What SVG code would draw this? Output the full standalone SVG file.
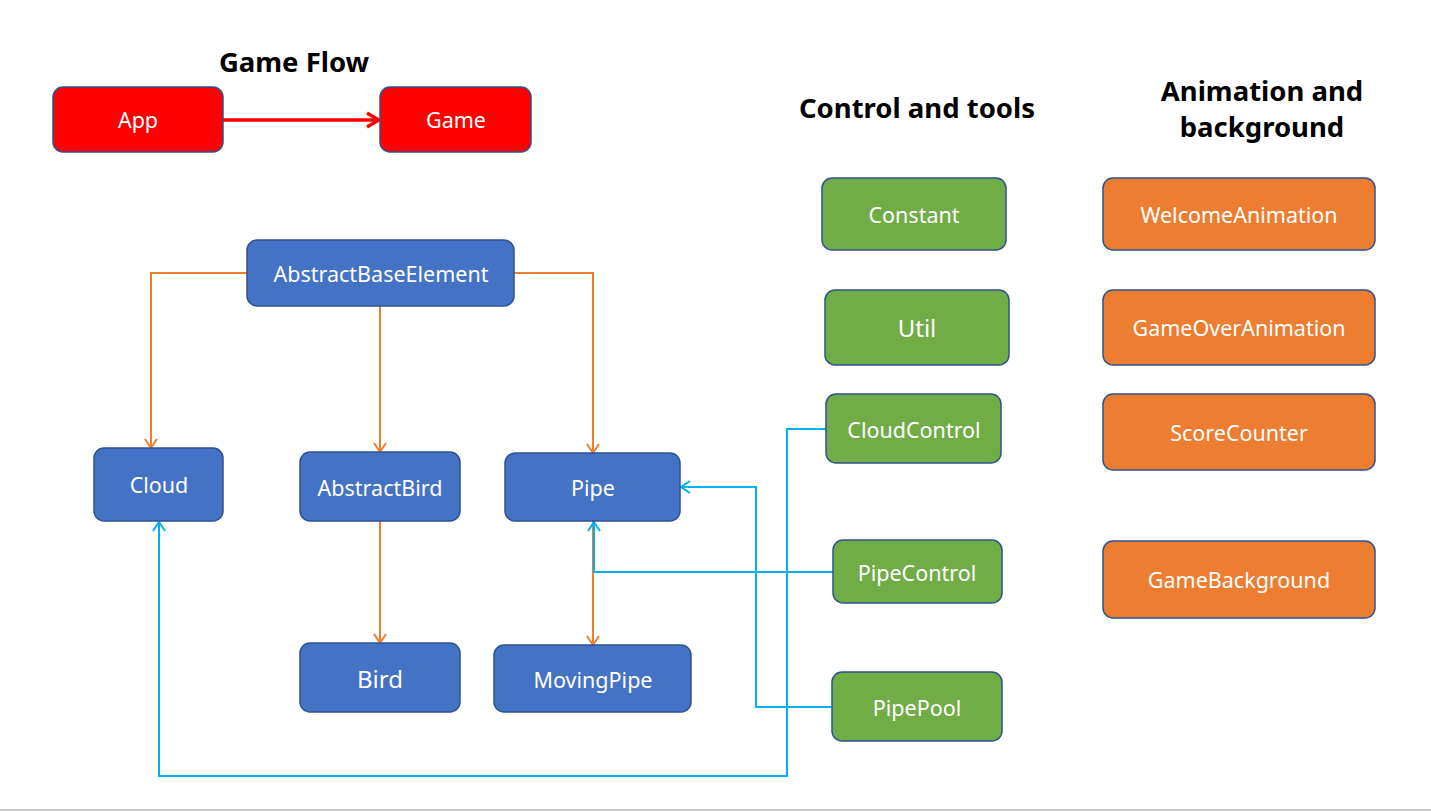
<svg xmlns="http://www.w3.org/2000/svg" width="1431" height="811" viewBox="0 0 1431 811">
<defs>
<style>
.t{font-family:"Noto Sans","Open Sans",sans-serif;font-size:21.5px;fill:#fff;text-anchor:middle;dominant-baseline:central}
.big{font-size:24px}
.h{font-family:"Noto Sans","Open Sans",sans-serif;font-size:27.5px;font-weight:bold;fill:#000;text-anchor:middle}
.n{stroke:#2F528F;stroke-width:1.5}
.red{fill:#FF0000}.blue{fill:#4472C4}.green{fill:#70AD47}.orange{fill:#ED7D31}
.co{fill:none;stroke:#ED7D31;stroke-width:2}
.cb{fill:none;stroke:#00B0F0;stroke-width:2}
.cr{fill:none;stroke:#FF0000;stroke-width:3.5}
</style>
<marker id="ao" markerUnits="userSpaceOnUse" markerWidth="16" markerHeight="16" viewBox="0 0 16 16" refX="14" refY="8" orient="auto"><path d="M5,2 L14,8 L5,14" fill="none" stroke="#ED7D31" stroke-width="2"/></marker>
<marker id="ab" markerUnits="userSpaceOnUse" markerWidth="16" markerHeight="16" viewBox="0 0 16 16" refX="14" refY="8" orient="auto"><path d="M5,2 L14,8 L5,14" fill="none" stroke="#00B0F0" stroke-width="2"/></marker>
<marker id="ar" markerUnits="userSpaceOnUse" markerWidth="20" markerHeight="20" viewBox="0 0 20 20" refX="18" refY="10" orient="auto"><path d="M6,3 L18,10 L6,17" fill="none" stroke="#FF0000" stroke-width="3.5"/></marker>
</defs>
<rect width="1431" height="811" fill="#fff"/>
<line x1="0" y1="810" x2="1431" y2="810" stroke="#c8c8c8" stroke-width="2"/>
<g id="titles">
<text class="h" x="294" y="72">Game Flow</text>
<text class="h" x="917" y="118">Control and tools</text>
<text class="h" x="1262" y="101">Animation and</text>
<text class="h" x="1262" y="137">background</text>
</g>
<g id="connectors">
<path class="cr" d="M223,120 L379,120" marker-end="url(#ar)"/>
<path class="co" d="M247,273 L151,273 L151,448" marker-end="url(#ao)"/>
<path class="co" d="M380,306 L380,452" marker-end="url(#ao)"/>
<path class="co" d="M514,273 L593,273 L593,453" marker-end="url(#ao)"/>
<path class="co" d="M380,521 L380,643" marker-end="url(#ao)"/>
<path class="co" d="M593,521 L593,645" marker-end="url(#ao)"/>
<path class="cb" d="M833,572 L594,572 L594,522" marker-end="url(#ab)"/>
<path class="cb" d="M826,429 L787,429 L787,776 L159,776 L159,522" marker-end="url(#ab)"/>
<path class="cb" d="M832,707 L756,707 L756,487 L681,487" marker-end="url(#ab)"/>
</g>
<g id="App"><rect class="n red" x="53" y="87" width="170" height="65" rx="10"/><text class="t" x="138" y="119">App</text></g>
<g id="Game"><rect class="n red" x="380" y="87" width="151" height="65" rx="10"/><text class="t" x="456" y="119">Game</text></g>
<g id="AbstractBaseElement"><rect class="n blue" x="247" y="240" width="267" height="66" rx="10"/><text class="t" x="381" y="273">AbstractBaseElement</text></g>
<g id="Cloud"><rect class="n blue" x="94" y="448" width="129" height="73" rx="10"/><text class="t" x="159" y="484">Cloud</text></g>
<g id="AbstractBird"><rect class="n blue" x="300" y="452" width="160" height="69" rx="10"/><text class="t" x="380" y="487">AbstractBird</text></g>
<g id="Pipe"><rect class="n blue" x="505" y="453" width="175" height="68" rx="10"/><text class="t" x="593" y="487">Pipe</text></g>
<g id="Bird"><rect class="n blue" x="300" y="643" width="160" height="69" rx="10"/><text class="t big" x="380" y="678">Bird</text></g>
<g id="MovingPipe"><rect class="n blue" x="494" y="645" width="197" height="67" rx="10"/><text class="t" x="593" y="679">MovingPipe</text></g>
<g id="Constant"><rect class="n green" x="822" y="178" width="184" height="72" rx="10"/><text class="t" x="914" y="214">Constant</text></g>
<g id="Util"><rect class="n green" x="825" y="290" width="184" height="75" rx="10"/><text class="t big" x="917" y="327">Util</text></g>
<g id="CloudControl"><rect class="n green" x="826" y="394" width="175" height="69" rx="10"/><text class="t" x="914" y="429">CloudControl</text></g>
<g id="PipeControl"><rect class="n green" x="833" y="540" width="169" height="63" rx="10"/><text class="t" x="917" y="572">PipeControl</text></g>
<g id="PipePool"><rect class="n green" x="832" y="672" width="170" height="69" rx="10"/><text class="t" x="917" y="707">PipePool</text></g>
<g id="WelcomeAnimation"><rect class="n orange" x="1103" y="178" width="272" height="72" rx="10"/><text class="t" x="1239" y="214">WelcomeAnimation</text></g>
<g id="GameOverAnimation"><rect class="n orange" x="1103" y="290" width="272" height="75" rx="10"/><text class="t" x="1239" y="327">GameOverAnimation</text></g>
<g id="ScoreCounter"><rect class="n orange" x="1103" y="394" width="272" height="76" rx="10"/><text class="t" x="1239" y="432">ScoreCounter</text></g>
<g id="GameBackground"><rect class="n orange" x="1103" y="541" width="272" height="77" rx="10"/><text class="t" x="1239" y="579">GameBackground</text></g>
</svg>
